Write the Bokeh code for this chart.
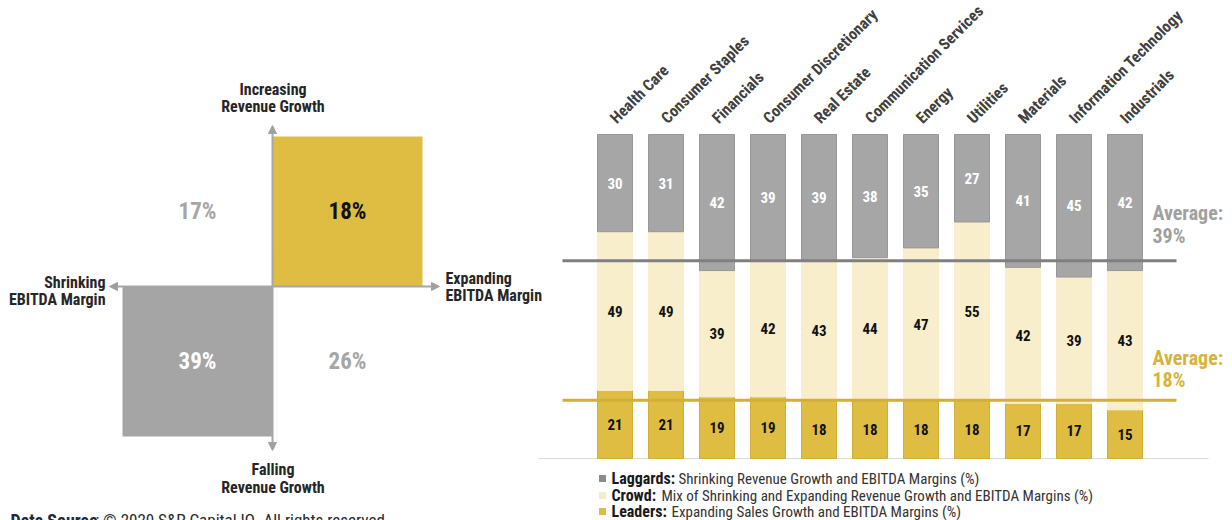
from math import pi
from bokeh.plotting import figure
from bokeh.models import Range1d, Arrow, NormalHead, ColumnDataSource
from bokeh.core.properties import value
from bokeh.embed import file_html
from bokeh.resources import INLINE

# ---------------- data ----------------
sectors = ["Health Care", "Consumer Staples", "Financials", "Consumer Discretionary",
           "Real Estate", "Communication Services", "Energy", "Utilities",
           "Materials", "Information Technology", "Industrials"]
laggards = [30, 31, 42, 39, 39, 38, 35, 27, 41, 45, 42]
crowd = [49, 49, 39, 42, 43, 44, 47, 55, 42, 39, 43]
leaders = [21, 21, 19, 19, 18, 18, 18, 18, 17, 17, 15]
avg_laggards = 39
avg_leaders = 18

quad_labels = ["17%", "18%", "39%", "26%"]  # top-left, top-right, bottom-left, bottom-right

legend_bold = ["Laggards:", "Crowd:", "Leaders:"]
legend_text = ["Shrinking Revenue Growth and EBITDA Margins (%)",
               "Mix of Shrinking and Expanding Revenue Growth and EBITDA Margins (%)",
               "Expanding Sales Growth and EBITDA Margins (%)"]

# ---------------- style ----------------
FONT = value("Roboto Condensed")
GOLD = "#dfbd43"
CREAM = "#f8eecc"
GRAY = "#a6a6a6"
DARK = "#262626"

W, H = 1232, 520
p = figure(width=W, height=H, output_backend="svg", toolbar_location=None,
           x_range=Range1d(-12.049, 12.108), y_range=Range1d(-19.14, 141.36),
           x_axis_location=None, y_axis_location=None, min_border=0,
           outline_line_color=None, background_fill_color="white")
p.grid.visible = False
p.extra_x_ranges = {"qx": Range1d(-1.8133, 6.4), "px": Range1d(0, W)}
p.extra_y_ranges = {"qy": Range1d(-1.56, 1.9067), "py": Range1d(H, 0)}

# ---------------- stacked bars ----------------
n = len(sectors)
idx = list(range(n))
crowd_top = [l + c for l, c in zip(leaders, crowd)]
src = ColumnDataSource(dict(
    x=idx, lead=leaders, ctop=crowd_top, top=[100] * n,
    lag_lbl=[str(v) for v in laggards], crowd_lbl=[str(v) for v in crowd],
    lead_lbl=[str(v) for v in leaders],
    lag_mid=[(ct + 100) / 2 for ct in crowd_top],
    crowd_mid=[(l + ct) / 2 for l, ct in zip(leaders, crowd_top)],
    lead_mid=[l / 2 for l in leaders],
    name=sectors, lx=[i + 0.09 for i in idx], ly=[102.2] * n,
))

# baseline
p.segment(x0=-1.5, x1=11.64, y0=0, y1=0, line_color="#d9d9d9", line_width=1)

BW = 0.686
p.vbar(x="x", bottom=0, top="lead", width=BW, source=src, fill_color=GOLD, line_color="#d2ae36", line_width=1)
p.vbar(x="x", bottom="lead", top="ctop", width=BW, source=src, fill_color=CREAM, line_color=CREAM, line_width=1)
p.vbar(x="x", bottom="ctop", top="top", width=BW, source=src, fill_color=GRAY, line_color="#979797", line_width=1)

vt = dict(source=src, text_font=FONT, text_font_style="bold", text_font_size="15px",
          text_align="center", text_baseline="middle")
p.text(x="x", y="lag_mid", text="lag_lbl", text_color="white", **vt)
p.text(x="x", y="crowd_mid", text="crowd_lbl", text_color="#111111", **vt)
p.text(x="x", y="lead_mid", text="lead_lbl", text_color="#111111", **vt)

# category labels
p.text(x="lx", y="ly", text="name", source=src, angle=pi / 4, text_color="#404040", text_font=FONT,
       text_font_style="bold", text_font_size="16px", text_align="left", text_baseline="bottom")

# average lines
p.segment(x0=-1.03, x1=11.01, y0=100 - avg_laggards, y1=100 - avg_laggards, line_color="#7f7f7f", line_width=3)
p.segment(x0=-1.03, x1=11.01, y0=avg_leaders, y1=avg_leaders, line_color="#d3ae38", line_width=3)

pxr = dict(x_range_name="px", y_range_name="py")
p.text(x=[1152, 1152], y=[212, 235], text=["Average:", f"{avg_laggards}%"], text_color="#a0a0a0",
       text_font=FONT, text_font_style="bold", text_font_size="20px", text_align="left",
       text_baseline="middle", **pxr)
p.text(x=[1152, 1152], y=[357, 379], text=["Average:", f"{avg_leaders}%"], text_color="#d8b33b",
       text_font=FONT, text_font_style="bold", text_font_size="20px", text_align="left",
       text_baseline="middle", **pxr)

# legend
leg_y = [478, 495, 511]
p.rect(x=[602] * 3, y=leg_y, width=7, height=7, fill_color=["#8c8c8c", "#f5ecc8", GOLD], line_color=None, **pxr)
p.text(x=[611] * 3, y=leg_y, text=legend_bold, text_color="#1a1a1a", text_font=FONT,
       text_font_style="bold", text_font_size="16px", text_align="left", text_baseline="middle", **pxr)
p.text(x=[678, 661, 671], y=leg_y, text=legend_text, text_color="#333333", text_font=FONT,
       text_font_size="15px", text_align="left", text_baseline="middle", **pxr)

# ---------------- quadrant ----------------
qr = dict(x_range_name="qx", y_range_name="qy")
p.quad(left=[0], right=[1], bottom=[0], top=[1], fill_color=GOLD, line_color=None, **qr)
p.quad(left=[-1], right=[0], bottom=[-1], top=[0], fill_color="#a5a5a5", line_color=None, **qr)

for xe, ye in [(0, 1.073), (0, -1.093), (-1.087, 0), (1.113, 0)]:
    p.add_layout(Arrow(end=NormalHead(size=8, fill_color="#a0a0a0", line_color="#a0a0a0"),
                       x_start=0, y_start=0, x_end=xe, y_end=ye, line_color="#a6a6a6",
                       line_width=2, **qr))

p.text(x=[-0.5, 0.5, -0.5, 0.5], y=[0.5, 0.5, -0.5, -0.5], text=quad_labels,
       text_color=["#a6a6a6", "#111111", "#ffffff", "#a6a6a6"], text_font=FONT,
       text_font_style="bold", text_font_size="23px", text_align="center", text_baseline="middle", **qr)

lab = dict(text_color=DARK, text_font=FONT, text_font_style="bold", text_font_size="16px",
           text_baseline="middle", **pxr)
p.text(x=[272.5, 272.5, 272.5, 272.5], y=[89, 106, 469, 487],
       text=["Increasing", "Revenue Growth", "Falling", "Revenue Growth"], text_align="center", **lab)
p.text(x=[105, 105], y=[282, 299], text=["Shrinking", "EBITDA Margin"], text_align="right", **lab)
p.text(x=[445, 445], y=[278, 295], text=["Expanding", "EBITDA Margin"], text_align="left", **lab)

# footer (cut off at bottom, as in the source)
p.text(x=[10], y=[509], text=["Data Source"], text_color="#1f2a3c", text_font=FONT, text_font_style="bold",
       text_font_size="18px", text_align="left", text_baseline="top", **pxr)
p.text(x=[95], y=[509], text=[": \u00a9 2020 S&P Capital IQ. All rights reserved."], text_color="#2a2a2a",
       text_font=FONT, text_font_size="17px", text_align="left", text_baseline="top", **pxr)

open("out.html", "w").write(file_html(p, INLINE))
